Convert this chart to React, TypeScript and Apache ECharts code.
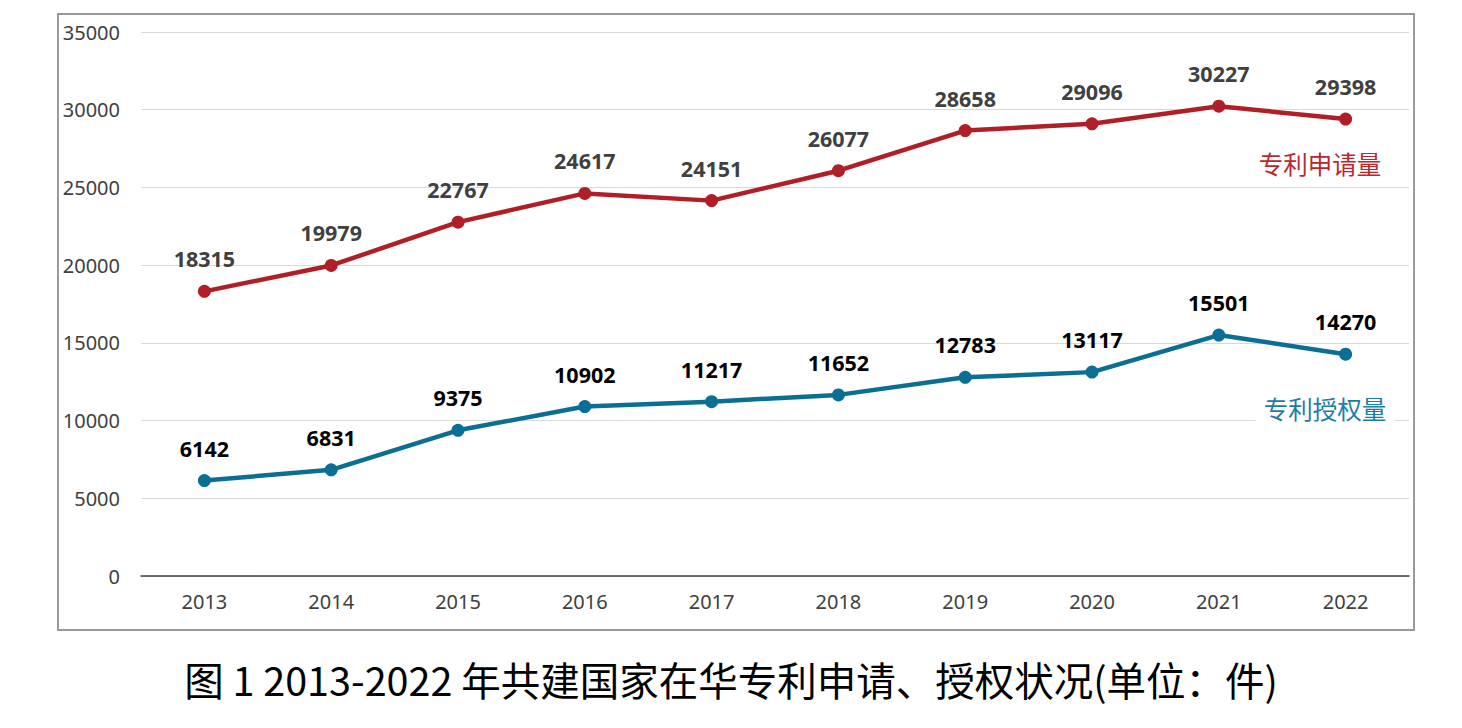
import React, { useEffect, useRef } from "react";
import * as echarts from "echarts";

const years = ["2013", "2014", "2015", "2016", "2017", "2018", "2019", "2020", "2021", "2022"];
const applications = [18315, 19979, 22767, 24617, 24151, 26077, 28658, 29096, 30227, 29398];
const grants = [6142, 6831, 9375, 10902, 11217, 11652, 12783, 13117, 15501, 14270];
const yTicks = { min: 0, max: 35000, interval: 5000 };
const seriesNames = ["专利申请量", "专利授权量"];
const titleText = "图 1 2013-2022 年共建国家在华专利申请、授权状况(单位：件)";

const RED = "#b01f27";
const BLUE = "#0b6e94";
const NUM_FONT = "'Noto Sans', 'Open Sans', sans-serif";
const CJK_FONT = "'Noto Sans CJK SC', sans-serif";

export default function App() {
  const ref = useRef<HTMLDivElement>(null);
  useEffect(() => {
    if (!ref.current) return;
    const chart = echarts.init(ref.current, undefined, { renderer: "svg" });
    chart.setOption({
      animation: false,
      backgroundColor: "#fff",
      grid: { left: 133, right: 45, top: 24, bottom: 144 },
      xAxis: {
        type: "category",
        data: years,
        boundaryGap: true,
        axisLine: { show: true, lineStyle: { color: "#404040", width: 1.5 } },
        axisTick: { show: false },
        axisLabel: { color: "#404040", fontSize: 20, fontFamily: NUM_FONT, margin: 15 },
      },
      yAxis: {
        type: "value",
        min: yTicks.min,
        max: yTicks.max,
        interval: yTicks.interval,
        axisLine: { show: false },
        axisTick: { show: false },
        axisLabel: {
          color: "#404040",
          fontSize: 20,
          fontFamily: NUM_FONT,
          margin: 21,
          formatter: (v: number) => String(v),
        },
        splitLine: { lineStyle: { color: "#d9d9d9", width: 1.2 } },
      },
      series: [
        {
          name: seriesNames[0],
          type: "line",
          data: applications,
          symbol: "circle",
          symbolSize: 13,
          lineStyle: { color: RED, width: 4.5 },
          itemStyle: { color: RED },
          label: {
            show: true,
            position: "top",
            distance: 15,
            color: "#404040",
            fontWeight: "bold",
            fontSize: 21.5,
            fontFamily: NUM_FONT,
          },
        },
        {
          name: seriesNames[1],
          type: "line",
          data: grants,
          symbol: "circle",
          symbolSize: 13,
          lineStyle: { color: BLUE, width: 4.5 },
          itemStyle: { color: BLUE },
          label: {
            show: true,
            position: "top",
            distance: 15,
            color: "#000",
            fontWeight: "bold",
            fontSize: 21.5,
            fontFamily: NUM_FONT,
          },
        },
      ],
      graphic: [
        {
          type: "rect",
          shape: { x: 50, y: 6, width: 1356, height: 616 },
          style: { fill: "none", stroke: "#9a9a9a", lineWidth: 2 },
          z: 0,
        },
        {
          type: "text",
          x: 1312,
          y: 155,
          style: {
            text: seriesNames[0],
            fill: "#b8282e",
            fontSize: 24.5,
            fontFamily: CJK_FONT,
            align: "center",
            verticalAlign: "middle",
          },
          z: 10,
        },
        {
          type: "text",
          x: 1317,
          y: 400,
          style: {
            text: seriesNames[1],
            fill: "#1b7ea6",
            fontSize: 24.5,
            fontFamily: CJK_FONT,
            align: "center",
            verticalAlign: "middle",
            backgroundColor: "#fff",
            padding: [2, 8],
          },
          z: 10,
        },
        {
          type: "text",
          x: 723,
          y: 670,
          style: {
            text: titleText,
            fill: "#000",
            fontSize: 39.5,
            fontFamily: CJK_FONT,
            align: "center",
            verticalAlign: "middle",
          },
        },
      ],
    });
    return () => chart.dispose();
  }, []);
  return <div ref={ref} style={{ width: 1446, height: 712 }} />;
}
